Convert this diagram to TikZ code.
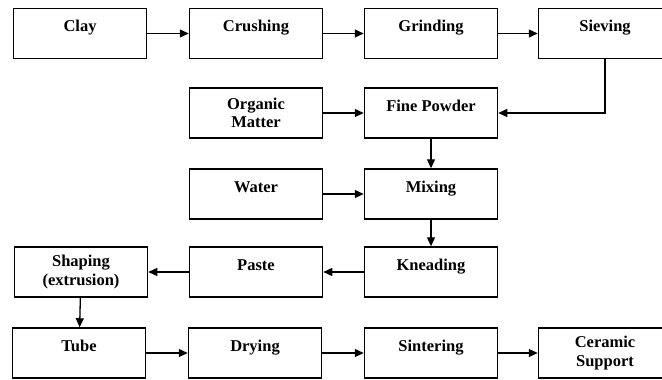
\documentclass[tikz,border=0pt]{standalone}
\usepackage{fontspec}
\setmainfont{Liberation Serif}
\usetikzlibrary{arrows.meta}

\begin{document}
\begin{tikzpicture}[x=1pt,y=-1pt,
  stepbox/.style={draw,rectangle,line width=1.5pt,minimum width=133pt,minimum height=50pt,inner sep=0pt,align=center,font=\bfseries\fontsize{16.5}{18.5}\selectfont},
  onebox/.style={stepbox,text height=11pt,text depth=15pt},
  flow/.style={-{Triangle[length=9pt,width=8pt]},line width=1.3pt}]
\useasboundingbox (0,0) rectangle (662,380);

% first row
\draw node [onebox] at (80,33.5) (clay){Clay};
\draw node [onebox] at (256,33.5) (crushing){Crushing};
\draw node [onebox] at (431,33.5) (grinding){Grinding};
\draw node [onebox] at (605,33.5) (sieving){Sieving};

\draw node [stepbox] at (256,113) (organic){Organic\\Matter};
\draw node [onebox] at (431,113) (fine){Fine Powder};

\draw node [onebox] at (256,194) (water){Water};
\draw node [onebox] at (431,194) (mixing){Mixing};

\draw node [stepbox] at (81,272) (shaping){Shaping\\(extrusion)};
\draw node [onebox] at (256,272) (paste){Paste};
\draw node [onebox] at (431,272) (kneading){Kneading};

% last row
\draw node [onebox] at (79,353) (tube){Tube};
\draw node [onebox] at (255,353) (drying){Drying};
\draw node [onebox] at (431,353) (sintering){Sintering};
\draw node [stepbox] at (605,353) (ceramic){Ceramic\\Support};

\draw[flow] (clay) -- (crushing);
\draw[flow] (crushing) -- (grinding);
\draw[flow] (grinding) -- (sieving);
\draw[flow] (sieving) |- (fine);
\draw[flow] (organic) -- (fine);
\draw[flow] (fine) -- (mixing);
\draw[flow] (water) -- (mixing);
\draw[flow] (mixing) -- (kneading);
\draw[flow] (kneading) -- (paste);
\draw[flow] (paste) -- (shaping);
\draw[flow] (shaping) -- (tube);
\draw[flow] (tube) -- (drying);
\draw[flow] (drying) -- (sintering);
\draw[flow] (sintering) -- (ceramic);

\end{tikzpicture}
\end{document}
